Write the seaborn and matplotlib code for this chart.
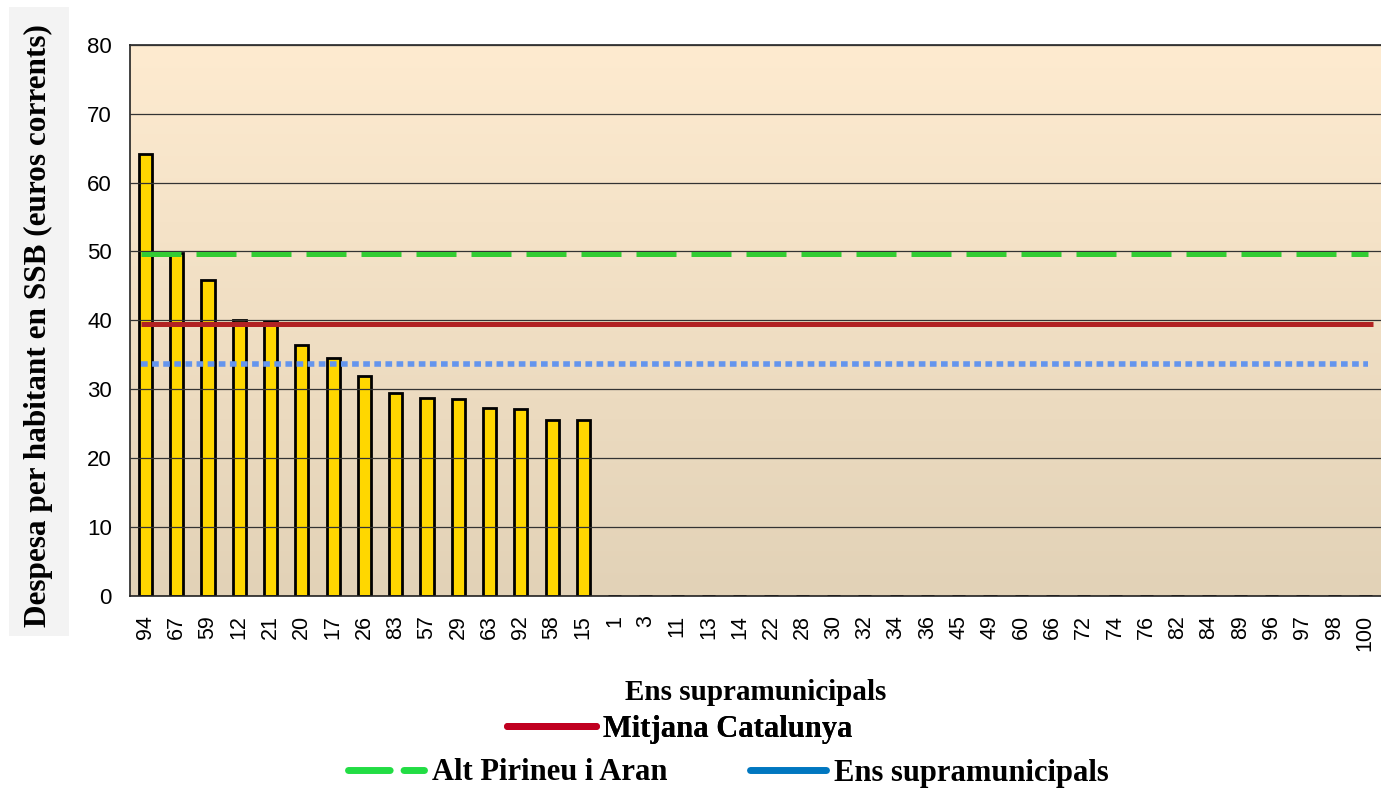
import numpy as np
import matplotlib.pyplot as plt
import seaborn as sns
from matplotlib.colors import LinearSegmentedColormap
from matplotlib.lines import Line2D
from matplotlib.patches import Rectangle

# data
ens = ["94", "67", "59", "12", "21", "20", "17", "26", "83", "57", "29", "63", "92", "58", "15",
       "1", "3", "11", "13", "14", "22", "28", "30", "32", "34", "36", "45", "49", "60", "66",
       "72", "74", "76", "82", "84", "89", "96", "97", "98", "100"]
despesa = [64.2, 49.8, 45.8, 40.1, 39.9, 36.4, 34.5, 31.9, 29.4, 28.7, 28.6, 27.2, 27.1, 25.5, 25.5,
           0, 0, 0, 0, 0, 0, 0, 0, 0, 0, 0, 0, 0, 0, 0,
           0, 0, 0, 0, 0, 0, 0, 0, 0, 0]
mitjana_catalunya = 39.4
alt_pirineu_aran = 49.6
ens_supramunicipals = 33.6
yticks = [0, 10, 20, 30, 40, 50, 60, 70, 80]

serif = ["Liberation Serif", "DejaVu Serif"]
sans = ["Liberation Sans", "DejaVu Sans"]

sns.set_style("white")
plt.rcParams['font.family'] = sans
plt.rcParams['text.color'] = "black"
plt.rcParams['xtick.color'] = "black"
plt.rcParams['ytick.color'] = "black"
plt.rcParams['axes.labelcolor'] = "black"

fig = plt.figure(figsize=(13.81, 7.89), dpi=100)
# grey box behind the y label
fig.patches.append(Rectangle((0.0065, 0.194), 0.0435, 0.797, transform=fig.transFigure,
                             facecolor="#F3F3F3", edgecolor="none", zorder=-1))
ax = fig.add_axes([0.094, 0.245, 0.906, 0.698])

# background gradient
cmap = LinearSegmentedColormap.from_list("bg", ["#E2D2B7", "#FEEBD0"])
ax.imshow(np.linspace(0, 1, 256).reshape(-1, 1)[::-1], cmap=cmap, aspect="auto",
          extent=[0, 1, 0, 1], transform=ax.transAxes, zorder=0)

sns.barplot(x=ens, y=despesa, order=ens, color="#FFD700", saturation=1,
            edgecolor="black", linewidth=2, width=0.42, ax=ax, zorder=2)

n = len(ens)
ax.hlines(alt_pirineu_aran, -0.15, n - 1 + 0.1, colors="#33CC33", lw=3.6,
          linestyles=(0, (8, 3)), zorder=3)
ax.hlines(mitjana_catalunya, -0.15, n - 1 + 0.25, colors="#B22222", lw=3.6, zorder=3)
ax.hlines(ens_supramunicipals, -0.15, n - 1 + 0.1, colors="#6495ED", lw=4,
          linestyles=(0, (1.2, 0.8)), zorder=3)

ax.set_xlim(-0.5, n - 0.5)
ax.set_ylim(0, 80)
ax.set_yticks(yticks)
ax.yaxis.grid(True, color="#333333", lw=0.9)
ax.set_axisbelow(False)
for line in ax.get_ygridlines():
    line.set_zorder(1)

ax.set_xticks(range(n))
ax.set_xticklabels(ens, rotation=90, fontsize=15.5, family=sans)
ax.tick_params(axis="x", which="major", length=0, pad=14)
ax.set_xticks(np.arange(n + 1) - 0.5, minor=True)
ax.tick_params(axis="x", which="minor", length=10, color="#555555", width=1, direction="out")
ax.tick_params(axis="y", length=10, color="#777777", width=1, direction="out",
               labelsize=16, pad=3)

for s in ["top", "left", "bottom"]:
    ax.spines[s].set_visible(True)
    ax.spines[s].set_color("#222222")
    ax.spines[s].set_linewidth(1.2)
ax.spines["right"].set_visible(False)

ax.set_ylabel("Despesa per habitant en SSB (euros corrents)", fontsize=22.5,
              fontweight="bold", family=serif)
ax.yaxis.set_label_coords(-0.061, 0.49)
ax.set_xlabel("Ens supramunicipals", fontsize=21, fontweight="bold", family=serif)
ax.xaxis.set_label_coords(0.5, -0.152)

leg_font = {"family": serif, "weight": "bold", "size": 22}
h1 = [Line2D([], [], color="#C00020", lw=5, solid_capstyle="round")]
leg1 = fig.legend(h1, ["Mitjana Catalunya"], loc="center",
                  bbox_to_anchor=(680 / 1381, 1 - 729 / 789), frameon=False,
                  prop=leg_font, handlelength=2.9, handletextpad=0.25)
h2 = [Line2D([], [], color="#22DD44", lw=5, linestyle=(0, (6, 2)), dash_capstyle="round"),
      Line2D([], [], color="#0077C0", lw=5, solid_capstyle="round")]
leg2 = fig.legend(h2, ["Alt Pirineu i Aran", "Ens supramunicipals"], loc="center", ncol=2,
                  bbox_to_anchor=(728 / 1381, 1 - 773 / 789), frameon=False,
                  prop=leg_font, handlelength=2.5, handletextpad=0.25, columnspacing=2.7)
fig.add_artist(leg1)

fig.savefig("out.png", dpi=100)
